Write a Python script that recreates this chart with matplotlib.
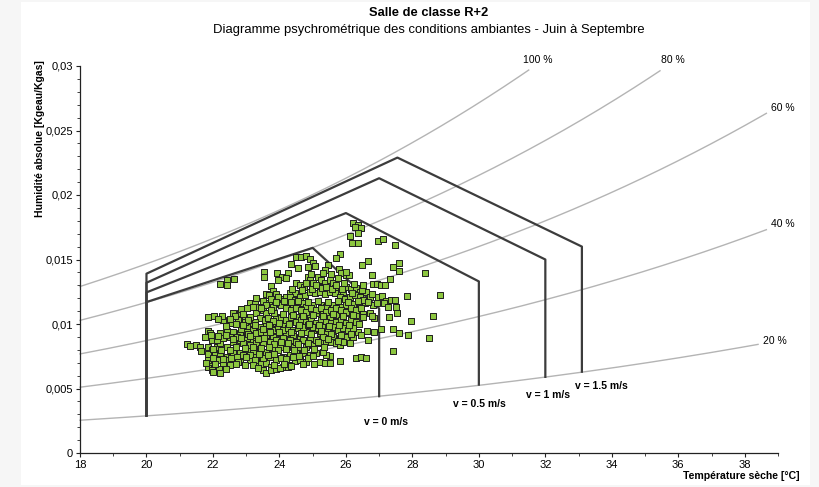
import numpy as np
import matplotlib
matplotlib.use('Agg')
import matplotlib.pyplot as plt
from matplotlib.patches import Rectangle
from matplotlib.ticker import MultipleLocator, FuncFormatter

plt.rcParams['font.family'] = ['Liberation Sans', 'DejaVu Sans']

# relative humidity curves (%), last temperature drawn, label position
rh_levels = [20, 40, 60, 80, 100]
rh_end_temp = [38.4, 38.65, 38.65, 35.45, 31.5]
rh_label_x = [38.9, 39.14, 39.14, 35.83, 31.77]
rh_label_y = [0.00868, 0.01775, 0.02674, 0.03047, 0.03047]

# comfort zones (Givoni) per air speed
zone_labels = ['v = 0 m/s', 'v = 0.5 m/s', 'v = 1 m/s', 'v = 1.5 m/s']
zone_left_t = [20, 20, 20, 20]
zone_left_bottom = [0.0029, 0.0029, 0.0029, 0.0029]
zone_left_top = [0.0117, 0.01245, 0.0132, 0.0139]
zone_peak_t = [25.0, 26.0, 27.0, 27.55]
zone_peak_w = [0.0159, 0.0186, 0.0213, 0.0229]
zone_right_t = [27.0, 30.0, 32.0, 33.1]
zone_right_top = [0.0112, 0.0133, 0.0150, 0.0160]
zone_right_bottom = [0.0044, 0.0053, 0.0059, 0.0063]
zone_label_x = [27.22, 30.03, 32.08, 33.69]
zone_label_y = [0.00238, 0.00377, 0.00450, 0.00522]

# measured room conditions (dry temperature [°C], absolute humidity [kg/kg])
temp = [
    26.21, 26.36, 26.44, 26.26, 26.11, 26.36, 26.19, 26.36, 26.96, 27.11, 27.49,
    25.81, 25.71, 24.51, 24.66, 24.81, 24.91, 25.01, 25.06, 24.86, 24.56, 24.36,
    25.46, 25.36, 25.79, 25.86, 25.99, 26.09, 26.49, 26.66, 27.59, 27.43, 27.61,
    28.39, 26.78, 27.33, 26.81, 26.93, 27.06, 27.19,
    23.53, 23.53, 23.93, 24.09, 24.26, 24.21, 23.96, 22.43, 22.64, 22.22, 22.41,
    23.76, 23.81, 23.59, 23.69, 23.91, 24.01, 24.21, 24.31, 24.46, 24.51, 24.61,
    24.74, 24.86, 24.93, 25.01, 25.16, 25.26, 25.21, 25.36, 25.51, 25.61, 25.66,
    25.76, 25.91, 26.01, 26.16, 26.31, 26.41, 26.61, 26.71, 26.96, 27.09, 27.21,
    27.36, 27.49, 27.83, 28.84, 28.61,
    23.11, 23.26, 23.01, 23.36, 23.51, 23.31, 23.61, 23.69, 23.81, 24.01, 24.21,
    24.41, 24.56, 24.71, 24.81, 25.01, 25.26, 25.41, 25.61, 25.81, 26.01, 26.21,
    26.41, 26.56, 26.81, 27.16, 27.26, 27.51, 27.29, 27.96, 27.54,
    22.61, 22.81, 22.96, 23.11, 22.76, 22.51, 22.31, 22.03, 21.86, 22.26,
    21.86, 21.91, 22.06, 21.96, 22.21, 22.41, 22.61, 22.81, 23.01, 23.21, 23.41,
    23.61, 23.76, 23.91, 24.11, 24.31, 24.51, 24.71, 24.91, 25.11, 25.31, 25.51,
    25.71, 25.91, 26.11, 26.31, 26.51, 26.71, 26.86,
    21.21, 21.31, 21.49, 21.61, 21.86, 21.96, 22.11, 22.21, 22.41, 22.61, 22.81,
    23.01, 23.21, 23.41, 23.61, 23.81, 24.01, 24.21, 24.41, 24.61, 24.81, 25.01,
    25.21, 25.41, 25.61, 25.81, 26.01, 26.21, 26.36, 26.64, 26.86, 27.06, 27.41,
    27.59, 27.86, 28.49,
    21.91, 22.06, 22.21, 22.41, 22.61, 22.81, 23.01, 23.21, 23.41, 23.61, 23.81,
    24.01, 24.21, 24.41, 24.61, 24.81, 25.01, 25.21, 25.41, 25.56, 25.71, 25.81,
    25.91, 26.11, 26.66, 27.43,
    21.86, 21.96, 22.01, 22.19, 22.41, 22.61, 22.81, 23.11, 23.31, 23.46, 23.61,
    23.76, 23.91, 24.11, 24.31, 24.46, 24.61, 24.81, 25.21, 25.36, 25.51, 25.81,
    26.31, 26.46, 26.61, 25.51, 25.41,
    23.51, 23.61, 23.76, 23.91, 24.01, 24.26, 24.36,
    24.31, 24.46, 24.61, 24.76, 24.91, 25.06, 25.21, 25.36, 25.51, 25.66, 25.81,
    25.96, 26.11, 26.26, 26.41, 26.51,
    24.06, 24.21, 24.36, 24.51, 24.66, 24.81, 24.96, 25.11, 25.26, 25.41, 25.56,
    25.71, 25.86, 26.01, 26.16, 26.31, 26.46,
    23.91, 24.06, 24.21, 24.36, 24.51, 24.66, 24.81, 24.96, 25.11, 25.26, 25.41,
    25.56, 25.71, 25.86, 26.01, 26.16, 26.31,
    23.41, 23.56, 23.26, 23.11, 22.96,
    23.81, 23.96, 24.11, 24.26, 24.41, 24.56, 24.71, 24.86, 25.01, 25.16, 25.31,
    25.46, 25.61, 25.76, 25.91, 26.06, 26.21,
    23.01, 23.16, 23.31, 23.46, 23.61, 23.71,
    22.11, 22.31, 22.51, 22.71, 22.91, 23.11, 23.31, 23.51, 23.71, 23.91, 24.11,
    24.31, 24.51, 24.71, 24.91, 25.11, 25.31,
    22.11, 22.31, 22.51, 22.71, 22.91, 23.11, 23.31, 23.51, 23.71, 23.91, 24.11,
    24.31, 24.51, 24.71, 24.91, 25.11, 25.31,
    22.21, 21.96, 21.86, 22.06,
    # denser core
    24.38, 24.68, 24.98, 25.28, 25.58, 25.88, 26.18, 26.48, 26.78,
    24.15, 24.35, 24.55, 24.85, 25.15, 25.45, 25.75, 26.05, 26.35, 26.65, 26.95,
    23.85, 24.10, 24.40, 24.70, 25.00, 25.30, 25.60, 25.90, 26.20, 26.50, 26.80,
    23.65, 23.80, 24.00, 24.30, 24.60, 24.90, 25.20, 25.50, 25.80, 26.10, 26.40,
    22.85, 23.05, 23.25, 23.50, 23.70, 24.00, 24.35, 24.65, 24.95, 25.25, 25.55,
    25.85, 26.15, 26.45,
    21.75, 21.95, 22.15, 22.40, 22.60, 22.85, 23.10, 23.35, 23.55, 23.85, 24.05,
    24.25, 24.55, 24.85, 25.15, 25.45, 25.75,
    21.65, 21.85, 22.00, 22.25, 22.50, 22.70, 22.95, 23.20, 23.45, 23.70, 23.95,
    24.20, 24.45, 24.75, 25.05, 25.35,
    21.80, 22.00, 22.30, 22.55, 22.75, 23.00, 23.25, 23.40, 23.65, 23.85, 24.05,
    24.20, 24.40, 24.60, 24.85, 25.00,
    22.40, 22.70, 22.95, 23.20, 23.35, 23.85, 24.15, 24.70, 25.05,
    23.30, 23.50, 23.75, 23.95, 23.60, 23.90, 23.20, 23.45, 23.75,
    22.85, 22.65, 22.90, 23.05, 22.50, 22.70, 22.40, 22.15, 22.90,
    25.10, 25.40, 25.70, 25.95, 24.80, 24.95, 25.30, 25.55, 25.75, 26.25, 26.50,
    26.00,
]
hum = [
    0.01785, 0.01767, 0.01741, 0.01749, 0.01682, 0.01702, 0.01625, 0.01625, 0.01646, 0.01656, 0.01610,
    0.01542, 0.01509, 0.01517, 0.01517, 0.01527, 0.01501, 0.01470, 0.01449, 0.01444, 0.01431, 0.01465,
    0.01457, 0.01418, 0.01423, 0.01397, 0.01379, 0.01379, 0.01454, 0.01485, 0.01475, 0.01439, 0.01410,
    0.01395, 0.01379, 0.01349, 0.01310, 0.01310, 0.01305, 0.01299,
    0.01400, 0.01367, 0.01392, 0.01367, 0.01397, 0.01354, 0.01341, 0.01344, 0.01351, 0.01312, 0.01305,
    0.01297, 0.01258, 0.01232, 0.01224, 0.01232, 0.01191, 0.01212, 0.01237, 0.01242, 0.01315, 0.01302,
    0.01289, 0.01367, 0.01341, 0.01315, 0.01367, 0.01341, 0.01289, 0.01315, 0.01341, 0.01315, 0.01276,
    0.01237, 0.01250, 0.01289, 0.01268, 0.01276, 0.01250, 0.01250, 0.01212, 0.01212, 0.01217, 0.01178,
    0.01186, 0.01186, 0.01217, 0.01222, 0.01061,
    0.01160, 0.01165, 0.01121, 0.01134, 0.01108, 0.01082, 0.01082, 0.01160, 0.01134, 0.01155, 0.01160,
    0.01147, 0.01160, 0.01160, 0.01134, 0.01147, 0.01147, 0.01134, 0.01147, 0.01134, 0.01147, 0.01155,
    0.01147, 0.01160, 0.01147, 0.01160, 0.01134, 0.01129, 0.01056, 0.01023, 0.01082,
    0.01082, 0.01082, 0.01056, 0.01005, 0.01031, 0.01010, 0.01031, 0.01061, 0.01056, 0.01061,
    0.00948, 0.00927, 0.00901, 0.00876, 0.00932, 0.00948, 0.00940, 0.00927, 0.00979, 0.00953, 0.00979,
    0.01005, 0.00979, 0.01005, 0.00992, 0.01031, 0.01056, 0.01082, 0.01056, 0.01082, 0.01082, 0.01056,
    0.01069, 0.01082, 0.01082, 0.01069, 0.01077, 0.01082, 0.01043,
    0.00845, 0.00829, 0.00837, 0.00824, 0.00824, 0.00798, 0.00824, 0.00850, 0.00824, 0.00863, 0.00876,
    0.00889, 0.00876, 0.00901, 0.00876, 0.00901, 0.00927, 0.00927, 0.00914, 0.00901, 0.00940, 0.00953,
    0.00927, 0.00940, 0.00901, 0.00889, 0.00901, 0.00896, 0.00940, 0.00948, 0.00935, 0.00958, 0.00958,
    0.00932, 0.00914, 0.00889,
    0.00746, 0.00759, 0.00772, 0.00746, 0.00772, 0.00772, 0.00798, 0.00772, 0.00798, 0.00785, 0.00811,
    0.00824, 0.00837, 0.00824, 0.00798, 0.00824, 0.00837, 0.00850, 0.00860, 0.00863, 0.00850, 0.00837,
    0.00863, 0.00850, 0.00876, 0.00788,
    0.00669, 0.00643, 0.00630, 0.00648, 0.00721, 0.00721, 0.00708, 0.00721, 0.00695, 0.00690, 0.00695,
    0.00669, 0.00656, 0.00669, 0.00682, 0.00716, 0.00721, 0.00708, 0.00708, 0.00695, 0.00700, 0.00716,
    0.00733, 0.00741, 0.00733, 0.00751, 0.00759,
    0.00643, 0.00622, 0.00643, 0.00648, 0.00656, 0.00669, 0.00674,
    0.01212, 0.01186, 0.01212, 0.01224, 0.01250, 0.01237, 0.01250, 0.01232, 0.01250, 0.01237, 0.01212,
    0.01191, 0.01212, 0.01224, 0.01212, 0.01186,
    0.01147, 0.01121, 0.01108, 0.01121, 0.01108, 0.01095, 0.01121, 0.01108, 0.01121, 0.01095, 0.01108,
    0.01121, 0.01108, 0.01095, 0.01121, 0.01108, 0.01121,
    0.01056, 0.01043, 0.01031, 0.01056, 0.01018, 0.01031, 0.01018, 0.01031, 0.01010, 0.01031, 0.01018,
    0.01005, 0.01018, 0.01031, 0.01010, 0.01031, 0.01018,
    0.01043, 0.01031, 0.01018, 0.01056, 0.01018,
    0.00953, 0.00966, 0.00953, 0.00966, 0.00953, 0.00966, 0.00979, 0.00992, 0.00979, 0.00966, 0.00979,
    0.00966, 0.00979, 0.00953, 0.00966, 0.00953, 0.00966,
    0.00940, 0.00914, 0.00927, 0.00940, 0.00914, 0.00940,
    0.00876, 0.00889, 0.00901, 0.00901, 0.00850, 0.00837, 0.00850, 0.00850, 0.00863, 0.00876, 0.00889,
    0.00876, 0.00863, 0.00876, 0.00889, 0.00876, 0.00901,
    0.00721, 0.00695, 0.00682, 0.00746, 0.00759, 0.00759, 0.00746, 0.00733, 0.00746, 0.00721, 0.00746,
    0.00759, 0.00772, 0.00772, 0.00759, 0.00772, 0.00785,
    0.00617, 0.00708, 0.00721, 0.00690,
    # denser core
    0.01275, 0.01262, 0.01270, 0.01282, 0.01268, 0.01274, 0.01240, 0.01262, 0.01235,
    0.01175, 0.01168, 0.01180, 0.01172, 0.01178, 0.01170, 0.01181, 0.01168, 0.01175, 0.01170, 0.01160,
    0.01085, 0.01078, 0.01070, 0.01065, 0.01068, 0.01062, 0.01075, 0.01060, 0.01070, 0.01058, 0.01065,
    0.01048, 0.01022, 0.01008, 0.01000, 0.00995, 0.01002, 0.00990, 0.00985, 0.00995, 0.00990, 0.01000,
    0.00960, 0.00925, 0.00990, 0.00965, 0.00990, 0.00940, 0.00935, 0.00930, 0.00920, 0.00945, 0.00925,
    0.00915, 0.00925, 0.00915,
    0.00900, 0.00915, 0.00905, 0.00915, 0.00885, 0.00895, 0.00905, 0.00885, 0.00895, 0.00845, 0.00860,
    0.00855, 0.00845, 0.00855, 0.00860, 0.00880, 0.00870,
    0.00790, 0.00770, 0.00810, 0.00800, 0.00795, 0.00820, 0.00815, 0.00820, 0.00815, 0.00825, 0.00800,
    0.00810, 0.00795, 0.00800, 0.00810, 0.00820,
    0.00700, 0.00735, 0.00730, 0.00740, 0.00705, 0.00745, 0.00720, 0.00765, 0.00760, 0.00770, 0.00740,
    0.00730, 0.00745, 0.00750, 0.00740, 0.00750,
    0.00650, 0.00690, 0.00680, 0.00680, 0.00660, 0.00680, 0.00690, 0.00690, 0.00690,
    0.01200, 0.01180, 0.01195, 0.01210, 0.01150, 0.01170, 0.01130, 0.01125, 0.01110,
    0.01120, 0.01060, 0.01080, 0.01030, 0.01040, 0.01000, 0.00985, 0.01040, 0.00990,
    0.01300, 0.01290, 0.01300, 0.01320, 0.01320, 0.01390, 0.01395, 0.01385, 0.01360, 0.01310, 0.01300,
    0.01400,
]

P_ATM = 101.325


def abs_humidity(t, rh):
    # saturation pressure (Magnus) -> humidity ratio
    ps = 0.61094 * np.exp(17.625 * t / (t + 243.04))
    pv = rh / 100.0 * ps
    return 0.622 * pv / (P_ATM - pv)


fig = plt.figure(figsize=(8.2, 4.87), dpi=100, facecolor='#f6f6f6')
fig.patches.append(Rectangle((21 / 820, 2 / 487), 789 / 820, 483 / 487,
                             transform=fig.transFigure, facecolor='white',
                             edgecolor='none', zorder=-10))
ax = fig.add_axes([80 / 820, 34 / 487, 698 / 820, 387 / 487])
ax.set_facecolor('none')
ax.set_zorder(5)

for rh, t_end, lx, ly in zip(rh_levels, rh_end_temp, rh_label_x, rh_label_y):
    t = np.linspace(18, t_end, 200)
    w = abs_humidity(t, rh)
    keep = w <= 0.0299
    ax.plot(t[keep], w[keep], color='#b4b4b4', lw=1.0, zorder=1, clip_on=False)
    ax.text(lx, ly, '%d %%' % rh, fontsize=7.5, ha='center', va='center',
            clip_on=False)

for i in range(len(zone_labels)):
    xs = [zone_left_t[i], zone_left_t[i], zone_peak_t[i], zone_right_t[i], zone_right_t[i]]
    ys = [zone_left_bottom[i], zone_left_top[i], zone_peak_w[i], zone_right_top[i], zone_right_bottom[i]]
    ax.plot(xs, ys, color='#3c3c3c', lw=1.6, zorder=2)
    ax.text(zone_label_x[i], zone_label_y[i], zone_labels[i], fontsize=7.5,
            fontweight='bold', ha='center', va='center')

ax.scatter(temp, hum, marker='s', s=15, facecolor='#8cc63f',
           edgecolor='#1e1e1e', linewidths=0.7, zorder=3)

ax.set_xlim(18, 39)
ax.set_ylim(0, 0.03)
ax.xaxis.set_major_locator(MultipleLocator(2))
ax.xaxis.set_minor_locator(MultipleLocator(1))
ax.yaxis.set_major_locator(MultipleLocator(0.005))
ax.yaxis.set_minor_locator(MultipleLocator(0.001))
ax.xaxis.set_major_formatter(FuncFormatter(lambda v, p: '' if v > 38.5 else '%d' % v))
ax.yaxis.set_major_formatter(FuncFormatter(
    lambda v, p: '0' if abs(v) < 1e-9 else ('%g' % round(v, 4)).replace('.', ',')))
ax.tick_params(axis='both', which='major', direction='out', length=3, width=0.8,
               labelsize=8, pad=2, color='#222222')
ax.tick_params(axis='both', which='minor', direction='out', length=2, width=0.6,
               color='#222222')
for side in ['top', 'right']:
    ax.spines[side].set_visible(False)
for side in ['left', 'bottom']:
    ax.spines[side].set_color('#222222')
    ax.spines[side].set_linewidth(0.9)

fig.text(429 / 820, 1 - 13 / 487, 'Salle de classe R+2', fontsize=9.3,
         fontweight='bold', ha='center', va='center')
fig.text(429 / 820, 1 - 30 / 487,
         'Diagramme psychrométrique des conditions ambiantes - Juin à Septembre',
         fontsize=9.4, ha='center', va='center')
fig.text(40 / 820, 1 - 60 / 487, 'Humidité absolue [Kgeau/Kgas]', fontsize=7.5,
         fontweight='bold', rotation=90, ha='center', va='top')
fig.text(800 / 820, 1 - 476 / 487, 'Température sèche [°C]', fontsize=7.6,
         fontweight='bold', ha='right', va='center')

fig.savefig('out.png', dpi=100, facecolor=fig.get_facecolor())
